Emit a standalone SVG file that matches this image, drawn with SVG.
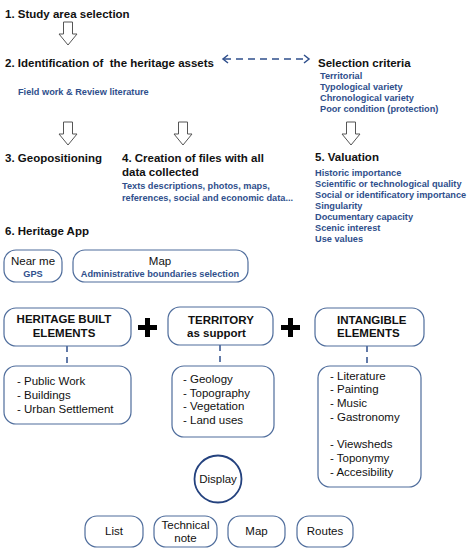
<svg xmlns="http://www.w3.org/2000/svg" width="470" height="550" viewBox="0 0 470 550">
<defs>
<style>
text{font-family:"Liberation Sans",Arial,sans-serif;white-space:pre}
.h{font-size:11.5px;font-weight:bold;fill:#111}
.b{font-size:9.2px;font-weight:bold;fill:#2f4f8c}
.t{font-size:11.5px;fill:#111}
.tb{font-size:11.5px;font-weight:bold;fill:#111}
.box{fill:#fff;stroke:#4f6d9c;stroke-width:1.2}
.arr{fill:#fff;stroke:#555;stroke-width:1}
.dash{stroke:#2f4f8c;stroke-width:1.5;stroke-dasharray:7 5;fill:none}
.plus{fill:#000}
</style>
<path id="ha" d="M-4.5,0 H4.5 V12 H9 L0,23 L-9,12 H-4.5 Z"/>
</defs>
<rect width="470" height="550" fill="#fff"/>

<g id="steps">
<text class="h" x="5" y="18">1. Study area selection</text>
<text class="h" x="5" y="67" xml:space="preserve">2. Identification of  the heritage assets</text>
<text class="b" x="18" y="95">Field work &amp; Review literature</text>
<text class="h" x="318" y="67">Selection criteria</text>
<text class="b" x="320" y="79">Territorial</text>
<text class="b" x="320" y="90">Typological variety</text>
<text class="b" x="320" y="101">Chronological variety</text>
<text class="b" x="320" y="112">Poor condition (protection)</text>
<text class="h" x="5" y="162">3. Geopositioning</text>
<text class="h" x="122" y="162">4. Creation of files with all</text>
<text class="h" x="122" y="176">data collected</text>
<text class="b" x="122" y="189">Texts descriptions, photos, maps,</text>
<text class="b" x="122" y="201">references, social and economic data...</text>
<text class="h" x="315" y="161">5. Valuation</text>
<text class="b" x="315" y="176">Historic importance</text>
<text class="b" x="315" y="187">Scientific or technological quality</text>
<text class="b" x="315" y="198">Social or identificatory importance</text>
<text class="b" x="315" y="209">Singularity</text>
<text class="b" x="315" y="220">Documentary capacity</text>
<text class="b" x="315" y="231">Scenic interest</text>
<text class="b" x="315" y="242">Use values</text>
<text class="h" x="5" y="235">6. Heritage App</text>
</g>

<g id="connectors">
<use href="#ha" class="arr" x="68" y="22"/>
<use href="#ha" class="arr" x="68" y="122"/>
<use href="#ha" class="arr" x="183" y="122"/>
<use href="#ha" class="arr" x="351" y="122"/>
<line class="dash" x1="224" y1="59" x2="308" y2="59"/>
<path d="M228,55 L223,59 L228,63" fill="none" stroke="#2f4f8c" stroke-width="1.5"/>
<path d="M304,55 L309,59 L304,63" fill="none" stroke="#2f4f8c" stroke-width="1.5"/>
<line x1="67" y1="346" x2="67" y2="366" stroke="#2f4f8c" stroke-width="1.5" stroke-dasharray="6 5"/>
<line x1="220" y1="345" x2="220" y2="366" stroke="#2f4f8c" stroke-width="1.5" stroke-dasharray="6 5"/>
<line x1="367" y1="346" x2="367" y2="366" stroke="#2f4f8c" stroke-width="1.5" stroke-dasharray="6 5"/>
<path class="plus" d="M145,318 h5 v7 h7 v5 h-7 v7 h-5 v-7 h-7 v-5 h7 Z"/>
<path class="plus" d="M288,318 h5 v7 h7 v5 h-7 v7 h-5 v-7 h-7 v-5 h7 Z"/>
</g>

<g id="near-me">
<rect class="box" x="4" y="250" width="58" height="32" rx="12"/>
<text class="t" x="33" y="265" text-anchor="middle">Near me</text>
<text class="b" x="33" y="277" text-anchor="middle">GPS</text>
</g>
<g id="map-app">
<rect class="box" x="73" y="250" width="175" height="32" rx="12"/>
<text class="t" x="160" y="265" text-anchor="middle">Map</text>
<text class="b" x="160" y="277" text-anchor="middle">Administrative boundaries selection</text>
</g>

<g id="heritage-built">
<rect class="box" x="4" y="308" width="127" height="38" rx="12"/>
<text class="tb" x="64" y="323" text-anchor="middle">HERITAGE BUILT</text>
<text class="tb" x="64" y="337" text-anchor="middle">ELEMENTS</text>
</g>
<g id="heritage-list">
<rect class="box" x="4" y="366" width="127" height="58" rx="12"/>
<text class="t" x="17" y="385">- Public Work</text>
<text class="t" x="17" y="399">- Buildings</text>
<text class="t" x="17" y="413">- Urban Settlement</text>
</g>

<g id="territory">
<rect class="box" x="168" y="307" width="105" height="38" rx="12"/>
<text class="tb" x="188" y="324">TERRITORY</text>
<text class="tb" x="187" y="337">as support</text>
</g>
<g id="territory-list">
<rect class="box" x="172" y="366" width="102" height="71" rx="12"/>
<text class="t" x="183" y="383">- Geology</text>
<text class="t" x="183" y="397">- Topography</text>
<text class="t" x="183" y="410">- Vegetation</text>
<text class="t" x="183" y="424">- Land uses</text>
</g>

<g id="intangible">
<rect class="box" x="315" y="308" width="109" height="38" rx="12"/>
<text class="tb" x="337" y="324">INTANGIBLE</text>
<text class="tb" x="337" y="337">ELEMENTS</text>
</g>
<g id="intangible-list">
<rect class="box" x="318" y="366" width="103" height="121" rx="12"/>
<text class="t" x="330" y="380">- Literature</text>
<text class="t" x="330" y="393">- Painting</text>
<text class="t" x="330" y="407">- Music</text>
<text class="t" x="330" y="421">- Gastronomy</text>
<text class="t" x="330" y="448">- Viewsheds</text>
<text class="t" x="330" y="462">- Toponymy</text>
<text class="t" x="330" y="476">- Accesibility</text>
</g>

<g id="display">
<circle cx="218" cy="479" r="23.5" fill="#fff" stroke="#24427e" stroke-width="1.8"/>
<text class="t" x="218" y="483" text-anchor="middle">Display</text>
</g>

<g id="list">
<rect class="box" x="85" y="516" width="58" height="31" rx="12"/>
<text class="t" x="114" y="535" text-anchor="middle">List</text>
</g>
<g id="technical-note">
<rect class="box" x="154" y="516" width="63" height="31" rx="12"/>
<text class="t" x="185.5" y="529" text-anchor="middle">Technical</text>
<text class="t" x="185.5" y="542" text-anchor="middle">note</text>
</g>
<g id="map">
<rect class="box" x="228" y="516" width="57" height="31" rx="12"/>
<text class="t" x="256.5" y="535" text-anchor="middle">Map</text>
</g>
<g id="routes">
<rect class="box" x="297" y="516" width="56" height="31" rx="12"/>
<text class="t" x="325" y="535" text-anchor="middle">Routes</text>
</g>
</svg>
